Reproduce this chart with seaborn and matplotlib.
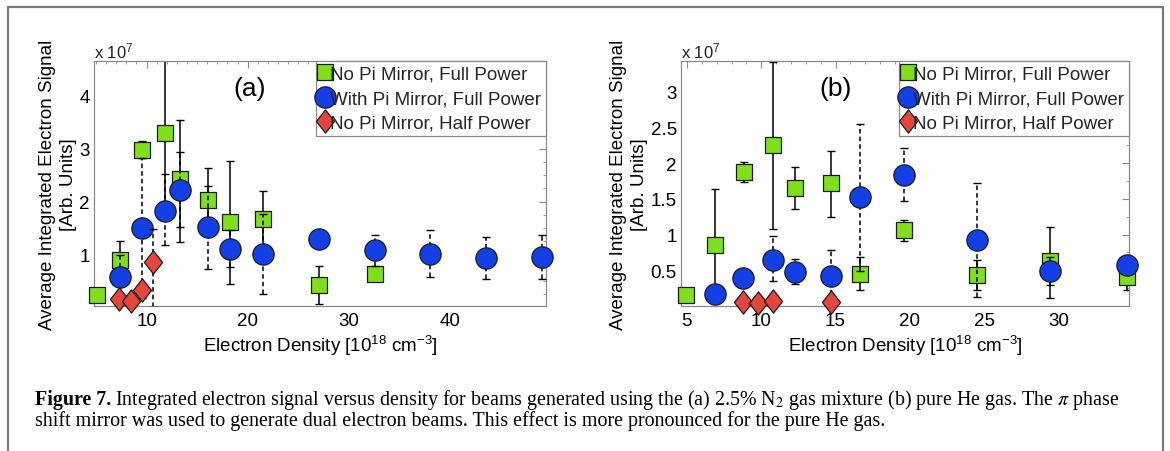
import matplotlib
matplotlib.use("Agg")
import matplotlib.pyplot as plt
import pandas as pd
import seaborn as sns
from matplotlib.lines import Line2D
from matplotlib.path import Path
from matplotlib.ticker import MultipleLocator

sns.set_theme(style="white")
plt.rcParams["font.family"] = ["Liberation Sans", "DejaVu Sans"]
plt.rcParams["mathtext.fontset"] = "custom"
plt.rcParams["mathtext.rm"] = "Liberation Sans"
plt.rcParams["mathtext.it"] = "Liberation Sans:italic"
plt.rcParams["mathtext.bf"] = "Liberation Sans:bold"
plt.rcParams["mathtext.sf"] = "Liberation Sans"

# ---- data (signal in units of 1e7, density in 1e18 cm^-3) ----
series_labels = ["No Pi Mirror, Full Power",
                 "With Pi Mirror, Full Power",
                 "No Pi Mirror, Half Power"]

# (a) 2.5% N2 gas mixture
a_nopi_x = [5.06, 7.33, 9.58, 11.78, 13.3, 16.05, 18.29, 21.52, 27.08, 32.6]
a_nopi_y = [0.245, 0.90, 2.98, 3.30, 2.43, 2.03, 1.61, 1.67, 0.43, 0.64]
a_nopi_lo = [0.0, 0.35, 0.16, 1.45, 1.19, 0.60, 1.16, 0.53, 0.37, 0.06]
a_nopi_hi = [0.0, 0.35, 0.17, 1.45, 1.11, 0.60, 1.16, 0.53, 0.36, 0.06]

a_pi_x = [7.33, 9.58, 11.78, 13.3, 16.05, 18.29, 21.52, 27.08, 32.6, 38.04, 43.53, 49.06]
a_pi_y = [0.585, 1.50, 1.83, 2.21, 1.52, 1.11, 1.01, 1.30, 1.08, 1.01, 0.93, 0.95]
a_pi_lo = [0.40, 1.32, 0.65, 0.69, 0.79, 0.35, 0.75, 0.0, 0.30, 0.44, 0.40, 0.41]
a_pi_hi = [0.40, 1.32, 0.69, 0.72, 0.77, 0.35, 0.75, 0.0, 0.29, 0.46, 0.40, 0.42]

a_half_x = [7.27, 8.42, 9.5, 10.62]
a_half_y = [0.16, 0.13, 0.33, 0.86]
a_half_lo = [0.0, 0.0, 0.0, 0.85]
a_half_hi = [0.0, 0.0, 0.0, 0.62]

# (b) pure He gas
b_nopi_x = [4.95, 6.9, 8.86, 10.8, 12.3, 14.71, 16.68, 19.62, 24.53, 29.45, 34.6]
b_nopi_y = [0.15, 0.85, 1.88, 2.25, 1.65, 1.72, 0.45, 1.06, 0.43, 0.63, 0.41]
b_nopi_lo = [0.0, 0.79, 0.14, 1.17, 0.29, 0.47, 0.23, 0.15, 0.21, 0.52, 0.19]
b_nopi_hi = [0.0, 0.79, 0.13, 1.17, 0.29, 0.45, 0.24, 0.15, 0.21, 0.48, 0.19]

b_pi_x = [6.9, 8.8, 10.8, 12.25, 14.71, 16.68, 19.62, 24.53, 29.45, 34.6]
b_pi_y = [0.175, 0.39, 0.64, 0.48, 0.42, 1.52, 1.84, 0.92, 0.49, 0.57]
b_pi_lo = [0.0, 0.0, 0.29, 0.17, 0.37, 1.03, 0.37, 0.79, 0.20, 0.05]
b_pi_hi = [0.0, 0.0, 0.335, 0.18, 0.37, 1.03, 0.37, 0.80, 0.20, 0.05]

b_half_x = [8.79, 9.8, 10.8, 14.71]
b_half_y = [0.06, 0.045, 0.07, 0.06]
b_half_lo = [0.0, 0.0, 0.0, 0.0]
b_half_hi = [0.0, 0.0, 0.0, 0.0]

a_xticks = [10, 20, 30, 40]
a_yticks = [1, 2, 3, 4]
b_xticks = [5, 10, 15, 20, 25, 30]
b_yticks = [0.5, 1, 1.5, 2, 2.5, 3]

# ---- styles ----
GREEN = "#7fe01a"
BLUE = "#1240e6"
RED = "#e5453b"
diamond = Path([(0, 1), (0.78, 0), (0, -1), (-0.78, 0), (0, 1)],
               [Path.MOVETO, Path.LINETO, Path.LINETO, Path.LINETO, Path.CLOSEPOLY])
styles = [
    dict(marker="s", s=120, color=GREEN, ls="-"),
    dict(marker="o", s=235, color=BLUE, ls=(0, (3, 2))),
    dict(marker=diamond, s=280, color=RED, ls=(0, (3, 2))),
]

fig = plt.figure(figsize=(11.7, 4.52), dpi=100)
W, H = 1170, 452


def frac_box(left, top, right, bottom):
    return [left / W, 1 - bottom / H, (right - left) / W, (bottom - top) / H]


def draw_panel(ax, groups, xlim, ylim, xticks, yticks, xminor, yminor, tag):
    z = 2
    for (xs, ys, lo, hi), label, st in zip(groups, series_labels, styles):
        eb = ax.errorbar(xs, ys, yerr=[lo, hi], fmt="none", ecolor="black",
                         elinewidth=1.1, capsize=3.2, capthick=1.0, zorder=z)
        for col in eb[2]:
            col.set_linestyle(st["ls"])
        df = pd.DataFrame({"density": xs, "signal": ys})
        sns.scatterplot(data=df, x="density", y="signal", ax=ax,
                        marker=st["marker"], s=st["s"], color=st["color"],
                        edgecolor="#1c1c1c", linewidth=0.9, label=label,
                        legend=False, zorder=z + 1, clip_on=False)
        z += 2

    ax.set_xlim(*xlim)
    ax.set_ylim(*ylim)
    ax.set_xticks(xticks)
    ax.set_yticks(yticks)
    ax.xaxis.set_minor_locator(MultipleLocator(xminor))
    ax.yaxis.set_minor_locator(MultipleLocator(yminor))
    ax.set_yticklabels([f"{t:g}" for t in yticks])
    ax.tick_params(which="both", direction="in", top=True, right=True,
                   color="#8a8a8a", labelsize=13.5, labelcolor="black")
    ax.tick_params(which="major", length=5, width=0.8)
    ax.tick_params(which="minor", length=2.5, width=0.6)
    ax.tick_params(axis="x", pad=4)
    ax.tick_params(axis="y", pad=3)
    for sp in ax.spines.values():
        sp.set_color("#8a8a8a")
        sp.set_linewidth(0.9)
        sp.set_visible(True)
    ax.set_facecolor("white")
    ax.grid(False)

    ax.set_xlabel("Electron Density [10$^{18}$ cm$^{-3}$]", fontsize=13.5,
                  labelpad=3, color="black")
    ax.set_ylabel("Average Integrated Electron Signal\n[Arb. Units]",
                  fontsize=13.5, labelpad=2, linespacing=1.3, color="black")
    ax.text(0.0, 1.004, "x 10$^{7}$", transform=ax.transAxes, ha="left",
            va="bottom", fontsize=12, color="#222222")
    ax.text(0.345, 0.89, tag, transform=ax.transAxes, ha="center", va="center",
            fontsize=19, color="black")

    leg = ax.legend(loc="upper right", borderaxespad=0.0, fontsize=13.5,
                    frameon=True, fancybox=False, framealpha=1.0,
                    edgecolor="#8a8a8a", facecolor="white",
                    handlelength=0.45, handletextpad=0.05, borderpad=0.25,
                    labelspacing=0.38, scatterpoints=1, scatteryoffsets=[0.5])
    leg.get_frame().set_linewidth(0.9)
    leg.set_zorder(20)


ax_a = fig.add_axes(frac_box(94, 62, 546, 307))
ax_b = fig.add_axes(frac_box(681, 62, 1129, 307))

draw_panel(ax_a,
           [(a_nopi_x, a_nopi_y, a_nopi_lo, a_nopi_hi),
            (a_pi_x, a_pi_y, a_pi_lo, a_pi_hi),
            (a_half_x, a_half_y, a_half_lo, a_half_hi)],
           (4.8, 49.5), (0.03, 4.65), a_xticks, a_yticks, 1, 0.25, "(a)")
draw_panel(ax_b,
           [(b_nopi_x, b_nopi_y, b_nopi_lo, b_nopi_hi),
            (b_pi_x, b_pi_y, b_pi_lo, b_pi_hi),
            (b_half_x, b_half_y, b_half_lo, b_half_hi)],
           (4.6, 34.75), (0.0, 3.43), b_xticks, b_yticks, 1, 0.25, "(b)")

# page frame around the figure block
frame_kw = dict(color="#7a7a7a", linewidth=1.6, transform=fig.transFigure)
fig.add_artist(Line2D([8 / W, 1163 / W], [1 - 8 / H, 1 - 8 / H], **frame_kw))
fig.add_artist(Line2D([8 / W, 8 / W], [1 - 8 / H, 0], **frame_kw))
fig.add_artist(Line2D([1163 / W, 1163 / W], [1 - 8 / H, 0], **frame_kw))

# caption
cap_font = ["Liberation Serif", "DejaVu Serif"]
cap_size = 14.4
x0 = 35 / W
y1 = 1 - 400 / H
y2 = 1 - 421 / H
head = fig.text(x0, y1, "Figure 7.", family=cap_font, weight="bold",
                fontsize=cap_size, va="center", ha="left", color="black")
renderer = fig.canvas.get_renderer()
hw = head.get_window_extent(renderer=renderer).width
fig.text(x0 + (hw + 4) / W, y1,
         "Integrated electron signal versus density for beams generated using "
         "the (a) 2.5% N$_2$ gas mixture (b) pure He gas. The $\\pi$ phase",
         family=cap_font, fontsize=cap_size, va="center", ha="left",
         math_fontfamily="stix", color="black")
fig.text(x0, y2,
         "shift mirror was used to generate dual electron beams. This effect is "
         "more pronounced for the pure He gas.",
         family=cap_font, fontsize=cap_size, va="center", ha="left",
         color="black")

fig.savefig("out.png", dpi=100, facecolor="white")
